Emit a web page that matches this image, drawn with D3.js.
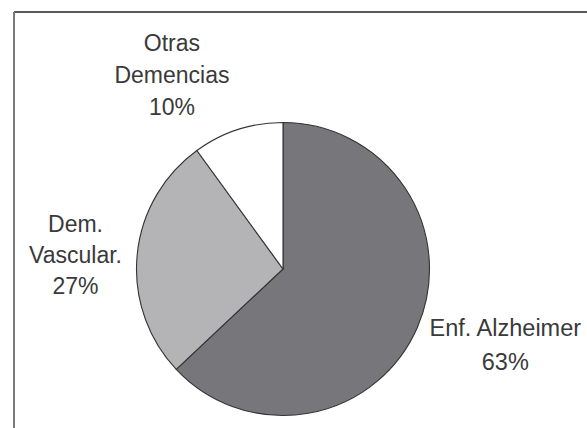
<!DOCTYPE html>
<html>
<head>
<meta charset="utf-8">
<script src="https://cdn.jsdelivr.net/npm/d3@7"></script>
<style>
  html, body { margin: 0; padding: 0; background: #fff; }
  svg { display: block; }
  text { font-family: "Liberation Sans", Arial, sans-serif; fill: #3a3a3a; }
</style>
</head>
<body>
<svg id="chart" width="587" height="428"></svg>
<script>
// ---- data ----
const categories = ["Enf. Alzheimer", "Dem. Vascular.", "Otras Demencias"];
const labelLines = [["Enf. Alzheimer"], ["Dem.", "Vascular."], ["Otras", "Demencias"]];
const values = [63, 27, 10];
const colors = ["#77777b", "#b4b4b7", "#ffffff"];

// ---- layout ----
const W = 587, H = 428;
const cx = 283, cy = 269, R = 146.5;
// label center positions expressed as (angle in degrees clockwise from top, distance from center)
const labelPlacement = [
  { angle: 108.9, dist: 235, lineH: 34, size: 23.5 },
  { angle: 274.0, dist: 208, lineH: 31, size: 23 },
  { angle: 330.2, dist: 223.5, lineH: 32, size: 23 }
];

const svg = d3.select("#chart");

// frame lines (top and left only)
svg.append("line").attr("x1", 14).attr("y1", 12).attr("x2", W).attr("y2", 12)
  .attr("stroke", "#222").attr("stroke-width", 1.6);
svg.append("line").attr("x1", 14).attr("y1", 12).attr("x2", 14).attr("y2", H)
  .attr("stroke", "#7a7a7a").attr("stroke-width", 2);

const pie = d3.pie().sort(null).value(d => d)
  .startAngle(0).endAngle(2 * Math.PI);
const arcs = pie(values);
const arc = d3.arc().innerRadius(0).outerRadius(R);

const g = svg.append("g").attr("transform", `translate(${cx},${cy})`);
g.selectAll("path").data(arcs).join("path")
  .attr("d", arc)
  .attr("fill", (d, i) => colors[i])
  .attr("stroke", "#333")
  .attr("stroke-width", 1.1)
  .attr("stroke-linejoin", "round");

// labels
arcs.forEach((a, i) => {
  const p = labelPlacement[i];
  const ang = p.angle * Math.PI / 180;
  const lx = Math.sin(ang) * p.dist;
  const ly = -Math.cos(ang) * p.dist;
  const lines = labelLines[i].concat([Math.round(values[i]) + "%"]);
  const n = lines.length;
  const t = g.append("text")
    .attr("text-anchor", "middle")
    .attr("font-size", p.size);
  lines.forEach((ln, j) => {
    t.append("tspan")
      .attr("x", lx)
      .attr("y", ly + (j - (n - 1) / 2) * p.lineH)
      .attr("dy", "0.35em")
      .text(ln);
  });
});
</script>
</body>
</html>
